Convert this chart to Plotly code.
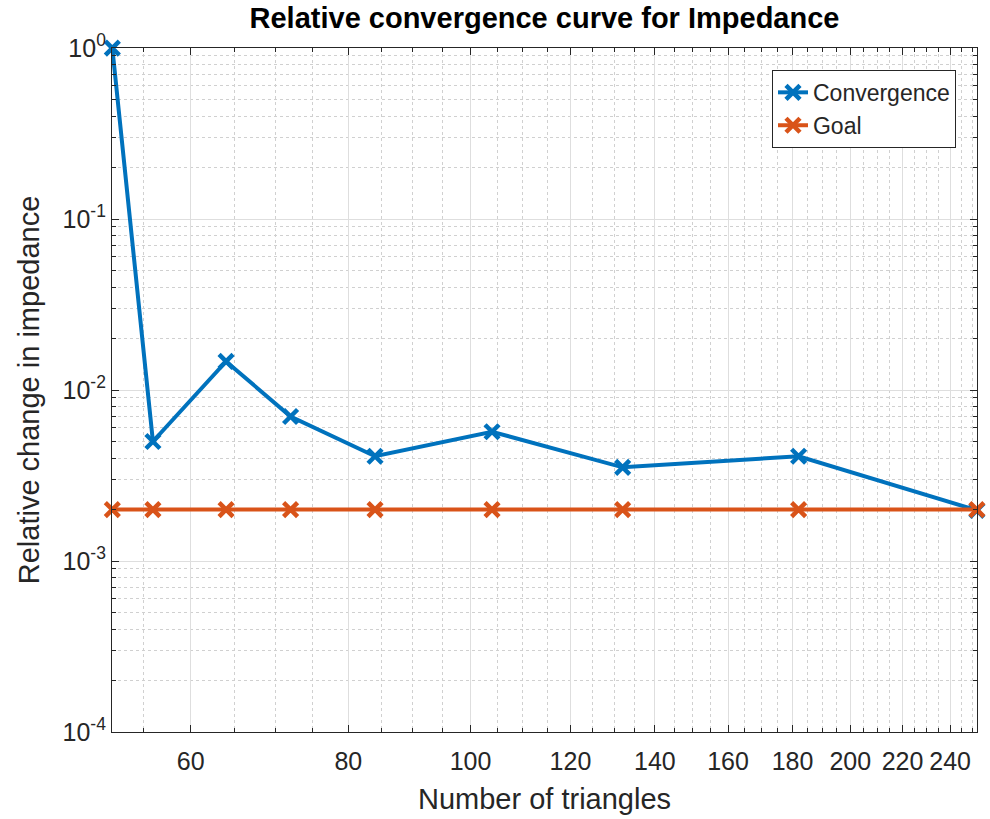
import math
import plotly.graph_objects as go

# ---- data ----
triangles = [52, 56, 64, 72, 84, 104, 132, 182, 252]
convergence = [1.0, 0.0050, 0.0147, 0.0070, 0.0041, 0.0057, 0.00353, 0.0041, 0.00198]
goal = [0.002, 0.002, 0.002, 0.002, 0.002, 0.002, 0.002, 0.002, 0.002]

x_tick_vals = [60, 80, 100, 120, 140, 160, 180, 200, 220, 240]
x_tick_text = ["60", "80", "100", "120", "140", "160", "180", "200", "220", "240"]
x_minor_vals = [55, 65, 70, 75, 85, 90, 95, 105, 110, 115, 125, 130, 135, 145, 150, 155,
                165, 170, 175, 185, 190, 195, 205, 210, 215, 225, 230, 235, 245, 250]
y_tick_vals = [1e-4, 1e-3, 1e-2, 1e-1, 1]
y_tick_text = ["10<sup>-4</sup>", "10<sup>-3</sup>", "10<sup>-2</sup>", "10<sup>-1</sup>", "10<sup>0</sup>"]
y_minor_vals = [m * 10.0 ** e for e in range(-4, 0) for m in range(2, 10)]

x_range = [51.97, 252.05]
y_range = [1e-4, 1.0008]

BLUE = "#0072BD"
ORANGE = "#D95319"
TXT = "#262626"
FONT = "Liberation Sans, Arial, Helvetica, sans-serif"

fig = go.Figure()
fig.add_trace(go.Scatter(
    x=triangles, y=convergence, name="Convergence", mode="lines+markers",
    line=dict(color=BLUE, width=4), cliponaxis=False,
    marker=dict(symbol="x-thin", size=14, color=BLUE, line=dict(color=BLUE, width=4.5)),
))
fig.add_trace(go.Scatter(
    x=triangles, y=goal, name="Goal", mode="lines+markers",
    line=dict(color=ORANGE, width=4), cliponaxis=False,
    marker=dict(symbol="x-thin", size=14, color=ORANGE, line=dict(color=ORANGE, width=4.5)),
))

axis_common = dict(
    type="log", showline=True, linecolor=TXT, linewidth=1.2, mirror="ticks",
    ticks="inside", ticklen=7, tickwidth=1, tickcolor=TXT,
    showgrid=True, gridcolor="#dedede", gridwidth=1, zeroline=False,
    tickfont=dict(family=FONT, size=25, color=TXT),
)

fig.update_xaxes(
    **axis_common,
    range=[math.log10(x_range[0]), math.log10(x_range[1])],
    tickmode="array", tickvals=x_tick_vals, ticktext=x_tick_text,
    ticklabelstandoff=7,
    minor=dict(tickmode="array", tickvals=x_minor_vals, ticks="inside", ticklen=4,
               tickcolor=TXT, showgrid=True, gridcolor="#d0d0d0", griddash="3px,3px", gridwidth=1),
    title=dict(text="Number of triangles", font=dict(family=FONT, size=29, color=TXT), standoff=14),
)
fig.update_yaxes(
    **axis_common,
    range=[math.log10(y_range[0]), math.log10(y_range[1])],
    tickmode="array", tickvals=y_tick_vals, ticktext=y_tick_text,
    minor=dict(tickmode="array", tickvals=y_minor_vals, ticks="inside", ticklen=4,
               tickcolor=TXT, showgrid=True, gridcolor="#d0d0d0", griddash="3px,3px", gridwidth=1),
    title=dict(text="Relative change in impedance", font=dict(family=FONT, size=29, color=TXT), standoff=14),
)

fig.update_layout(
    width=990, height=819,
    margin=dict(l=112, r=13, t=48, b=87, autoexpand=False),
    paper_bgcolor="white", plot_bgcolor="white",
    title=dict(text="<b>Relative convergence curve for Impedance</b>",
               font=dict(family=FONT, size=29, color="#000000"),
               x=(112 + 977) / 2 / 990, xanchor="center", y=1 - 18 / 819, yanchor="middle",
               xref="container", yref="container"),
    showlegend=True,
    legend=dict(x=0.9757, xanchor="right", y=0.968, yanchor="top",
                bgcolor="white", bordercolor=TXT, borderwidth=1,
                font=dict(family=FONT, size=23, color=TXT), tracegroupgap=0),
)

fig.write_html("out.html", config={"displayModeBar": False},
               post_script="document.body.style.margin='0';")
